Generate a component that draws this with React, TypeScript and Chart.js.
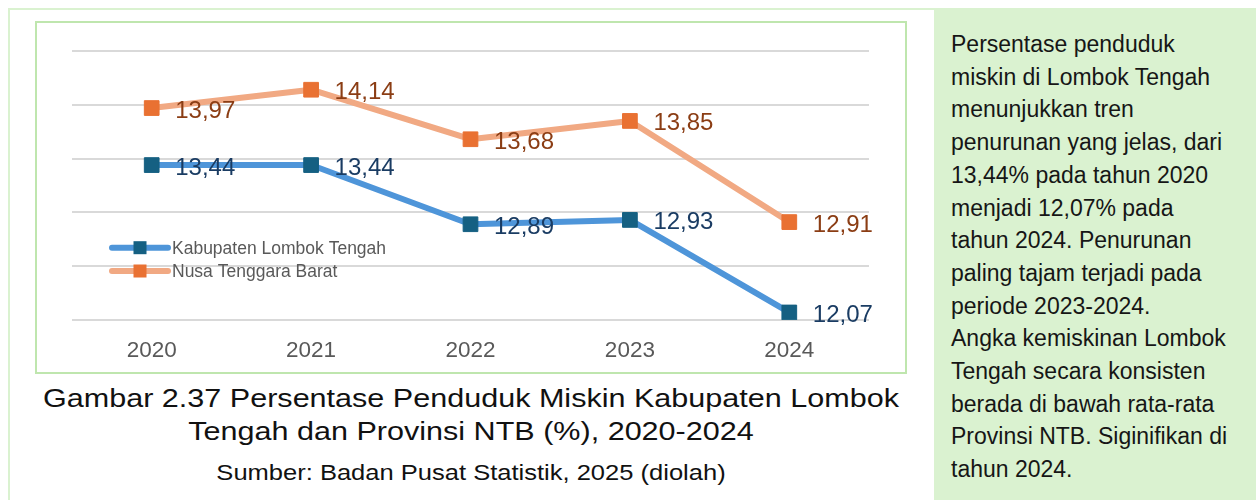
import React, { useEffect, useRef } from 'react';
import { Chart, registerables } from 'chart.js';

Chart.register(...registerables);

const years = ['2020', '2021', '2022', '2023', '2024'];
const lombokTengah = [13.44, 13.44, 12.89, 12.93, 12.07];
const ntb = [13.97, 14.14, 13.68, 13.85, 12.91];
const seriesNames = ['Kabupaten Lombok Tengah', 'Nusa Tenggara Barat'];
const yMin = 12;
const yMax = 14.5;
const yStep = 0.5;

const captionLines = [
  'Gambar 2.37 Persentase Penduduk Miskin Kabupaten Lombok',
  'Tengah dan Provinsi NTB (%), 2020-2024',
];
const sourceLine = 'Sumber: Badan Pusat Statistik, 2025 (diolah)';

const panelLines = [
  'Persentase penduduk',
  'miskin di Lombok Tengah',
  'menunjukkan tren',
  'penurunan yang jelas, dari',
  '13,44% pada tahun 2020',
  'menjadi 12,07% pada',
  'tahun 2024. Penurunan',
  'paling tajam terjadi pada',
  'periode 2023-2024.',
  'Angka kemiskinan Lombok',
  'Tengah secara konsisten',
  'berada di bawah rata-rata',
  'Provinsi NTB. Siginifikan di',
  'tahun 2024.',
];

const FONT = '"Liberation Sans", Arial, sans-serif';

const valueLabelPlugin = {
  id: 'valueLabels',
  afterDatasetsDraw(chart: any) {
    const ctx = chart.ctx;
    ctx.save();
    ctx.font = `24px ${FONT}`;
    ctx.textAlign = 'left';
    ctx.textBaseline = 'alphabetic';
    chart.data.datasets.forEach((ds: any, i: number) => {
      const meta = chart.getDatasetMeta(i);
      ctx.fillStyle = ds.labelColor;
      meta.data.forEach((pt: any, j: number) => {
        const v = ds.data[j] as number;
        ctx.fillText(v.toFixed(2).replace('.', ','), pt.x + 23.5, pt.y + 9.5);
      });
    });
    ctx.restore();
  },
};

const insideLegendPlugin = {
  id: 'insideLegend',
  afterDraw(chart: any) {
    const ctx = chart.ctx;
    const area = chart.chartArea;
    ctx.save();
    chart.data.datasets.forEach((ds: any, i: number) => {
      const y = area.top + 196.7 + i * 23.3;
      const x0 = area.left + 40;
      const x1 = area.left + 96;
      ctx.strokeStyle = ds.borderColor;
      ctx.lineWidth = 6;
      ctx.lineCap = 'round';
      ctx.beginPath();
      ctx.moveTo(x0, y);
      ctx.lineTo(x1, y);
      ctx.stroke();
      ctx.fillStyle = ds.pointBackgroundColor;
      ctx.fillRect(area.left + 68 - 6.5, y - 6.5, 13, 13);
      ctx.fillStyle = '#595959';
      ctx.font = `17.5px ${FONT}`;
      ctx.textAlign = 'left';
      ctx.textBaseline = 'middle';
      ctx.fillText(ds.label, area.left + 100, y + 1);
    });
    ctx.restore();
  },
};

function LineChart() {
  const ref = useRef<HTMLCanvasElement | null>(null);
  useEffect(() => {
    if (!ref.current) return;
    const chart = new Chart(ref.current, {
      type: 'line',
      data: {
        labels: years,
        datasets: [
          {
            label: seriesNames[0],
            data: lombokTengah,
            borderColor: '#4e95d9',
            backgroundColor: '#156082',
            pointBackgroundColor: '#156082',
            pointBorderColor: '#156082',
            pointStyle: 'rect',
            pointRadius: 10.4,
            pointBorderWidth: 1,
            borderWidth: 6,
            borderCapStyle: 'round',
            borderJoinStyle: 'round',
            tension: 0,
            labelColor: '#1a3c63',
          } as any,
          {
            label: seriesNames[1],
            data: ntb,
            borderColor: '#f1a983',
            backgroundColor: '#e97132',
            pointBackgroundColor: '#e97132',
            pointBorderColor: '#e97132',
            pointStyle: 'rect',
            pointRadius: 10.4,
            pointBorderWidth: 1,
            borderWidth: 6,
            borderCapStyle: 'round',
            borderJoinStyle: 'round',
            tension: 0,
            labelColor: '#8b3d14',
          } as any,
        ],
      },
      options: {
        animation: false,
        responsive: false,
        maintainAspectRatio: false,
        layout: { padding: { left: 35, right: 36, top: 28, bottom: 0 } },
        plugins: {
          legend: { display: false },
          tooltip: { enabled: false },
        },
        scales: {
          x: {
            offset: true,
            grid: { display: false },
            border: { display: false },
            ticks: {
              color: '#595959',
              font: { size: 22.5, family: FONT },
              padding: 9,
            },
            afterFit: (s: any) => {
              s.height = 54;
            },
          },
          y: {
            min: yMin,
            max: yMax,
            ticks: { display: false, stepSize: yStep },
            grid: { color: '#d9d9d9', lineWidth: 2, drawTicks: false },
            border: { display: false },
            afterFit: (s: any) => {
              s.width = 0;
            },
          },
        },
      },
      plugins: [valueLabelPlugin, insideLegendPlugin],
    });
    return () => chart.destroy();
  }, []);
  return <canvas ref={ref} width={868} height={351} style={{ display: 'block', width: 868, height: 351 }} />;
}

export default function App() {
  return (
    <div
      style={{
        position: 'absolute',
        left: 0,
        top: 0,
        width: 1256,
        height: 500,
        background: '#ffffff',
        overflow: 'hidden',
        fontFamily: FONT,
      }}
    >
      {/* outer frame */}
      <div
        style={{
          position: 'absolute',
          left: 8,
          top: 8,
          width: 940,
          height: 520,
          borderTop: '2px solid #daf2d0',
          borderLeft: '2px solid #daf2d0',
          boxSizing: 'border-box',
        }}
      />
      {/* right text panel */}
      <div
        style={{
          position: 'absolute',
          left: 934,
          top: 8,
          width: 322,
          height: 492,
          background: '#daf2d0',
        }}
      />
      {panelLines.map((t, i) => (
        <div
          key={i}
          style={{
            position: 'absolute',
            left: 951,
            top: 28 + i * 32.7,
            fontSize: 23,
            lineHeight: '32.7px',
            color: '#161616',
            whiteSpace: 'nowrap',
          }}
        >
          {t}
        </div>
      ))}
      {/* chart box */}
      <div
        style={{
          position: 'absolute',
          left: 35,
          top: 21,
          width: 872,
          height: 353,
          border: '2px solid #bfe6ae',
          boxSizing: 'border-box',
          background: '#ffffff',
        }}
      >
        <LineChart />
      </div>
      {/* caption */}
      {captionLines.map((t, i) => (
        <div
          key={i}
          style={{
            position: 'absolute',
            left: 35,
            width: 872,
            top: 383 + i * 32.5,
            fontSize: 26,
            lineHeight: '30px',
            textAlign: 'center',
            color: '#111111',
            whiteSpace: 'nowrap',
            transform: 'scaleX(1.175)',
            transformOrigin: 'center',
          }}
        >
          {t}
        </div>
      ))}
      <div
        style={{
          position: 'absolute',
          left: 35,
          width: 872,
          top: 460,
          fontSize: 22,
          lineHeight: '26px',
          textAlign: 'center',
          color: '#111111',
          whiteSpace: 'nowrap',
          transform: 'scaleX(1.16)',
          transformOrigin: 'center',
        }}
      >
        {sourceLine}
      </div>
    </div>
  );
}
